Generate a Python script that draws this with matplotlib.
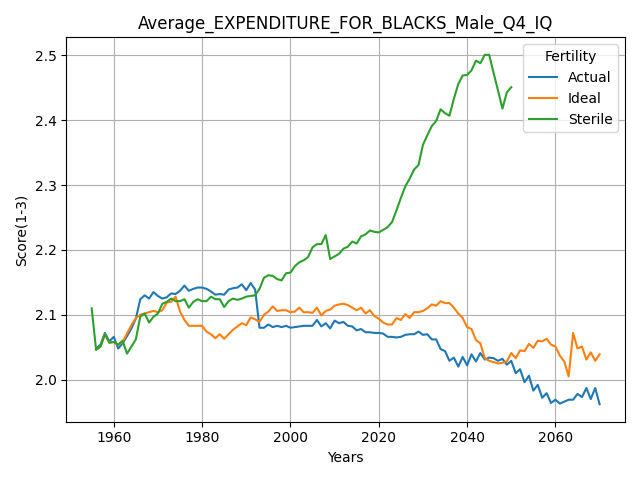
import matplotlib
matplotlib.use("Agg")
import matplotlib.pyplot as plt
import numpy as np

# yearly values
years_actual = list(range(1956, 2071))
actual = [
    2.048, 2.054, 2.072, 2.059, 2.066, 2.048, 2.056, 2.067, 2.079, 2.094,  # 1956-1965
    2.124, 2.130, 2.125, 2.135, 2.129, 2.125, 2.127, 2.133, 2.132, 2.137,  # 1966-1975
    2.145, 2.137, 2.140, 2.142, 2.142, 2.140, 2.136, 2.131, 2.132, 2.131,  # 1976-1985
    2.139, 2.141, 2.142, 2.147, 2.138, 2.149, 2.139, 2.080, 2.080, 2.085,  # 1986-1995
    2.081, 2.083, 2.081, 2.083, 2.080, 2.081, 2.082, 2.083, 2.083, 2.083,  # 1996-2005
    2.092, 2.082, 2.087, 2.079, 2.091, 2.087, 2.089, 2.083, 2.082, 2.076,  # 2006-2015
    2.078, 2.073, 2.073, 2.072, 2.072, 2.071, 2.066, 2.066, 2.065, 2.066,  # 2016-2025
    2.069, 2.070, 2.070, 2.074, 2.069, 2.070, 2.062, 2.062, 2.047, 2.044,  # 2026-2035
    2.029, 2.034, 2.020, 2.035, 2.022, 2.039, 2.028, 2.041, 2.031, 2.034,  # 2036-2045
    2.033, 2.029, 2.032, 2.023, 2.029, 2.010, 2.016, 1.996, 2.006, 1.983,  # 2046-2055
    1.992, 1.972, 1.979, 1.964, 1.969, 1.963, 1.966, 1.969, 1.969, 1.978,  # 2056-2065
    1.973, 1.987, 1.970, 1.987, 1.962,                                      # 2066-2070
]

years_ideal = list(range(1956, 2071))
ideal = [
    2.046, 2.051, 2.070, 2.057, 2.058, 2.054, 2.058, 2.071, 2.084, 2.095,  # 1956-1965
    2.100, 2.102, 2.104, 2.106, 2.104, 2.107, 2.119, 2.120, 2.128, 2.105,  # 1966-1975
    2.092, 2.083, 2.083, 2.083, 2.083, 2.074, 2.070, 2.064, 2.070, 2.063,  # 1976-1985
    2.070, 2.077, 2.082, 2.087, 2.084, 2.096, 2.093, 2.089, 2.100, 2.105,  # 1986-1995
    2.113, 2.106, 2.107, 2.107, 2.104, 2.105, 2.111, 2.104, 2.104, 2.103,  # 1996-2005
    2.111, 2.099, 2.106, 2.108, 2.114, 2.116, 2.117, 2.115, 2.111, 2.107,  # 2006-2015
    2.111, 2.102, 2.107, 2.098, 2.094, 2.088, 2.085, 2.085, 2.095, 2.092,  # 2016-2025
    2.101, 2.095, 2.104, 2.104, 2.106, 2.110, 2.116, 2.114, 2.121, 2.118,  # 2026-2035
    2.118, 2.111, 2.102, 2.095, 2.081, 2.078, 2.061, 2.056, 2.033, 2.029,  # 2036-2045
    2.027, 2.025, 2.026, 2.028, 2.041, 2.033, 2.045, 2.044, 2.055, 2.049,  # 2046-2055
    2.060, 2.059, 2.063, 2.054, 2.051, 2.037, 2.028, 2.005, 2.072, 2.048,  # 2056-2065
    2.051, 2.031, 2.042, 2.029, 2.039,                                      # 2066-2070
]

years_sterile = list(range(1955, 2051))
sterile = [
    2.110, 2.046, 2.051, 2.070, 2.057, 2.058, 2.054, 2.060, 2.040, 2.051,  # 1955-1964
    2.062, 2.097, 2.102, 2.088, 2.097, 2.102, 2.117, 2.120, 2.125, 2.121,  # 1965-1974
    2.121, 2.124, 2.111, 2.120, 2.124, 2.121, 2.121, 2.128, 2.124, 2.124,  # 1975-1984
    2.112, 2.121, 2.125, 2.123, 2.125, 2.128, 2.129, 2.130, 2.140, 2.157,  # 1985-1994
    2.161, 2.160, 2.155, 2.153, 2.164, 2.165, 2.175, 2.181, 2.184, 2.189,  # 1995-2004
    2.204, 2.209, 2.209, 2.223, 2.186, 2.190, 2.194, 2.202, 2.205, 2.213,  # 2005-2014
    2.210, 2.221, 2.224, 2.230, 2.228, 2.227, 2.231, 2.235, 2.243, 2.261,  # 2015-2024
    2.280, 2.298, 2.310, 2.324, 2.331, 2.362, 2.377, 2.391, 2.399, 2.417,  # 2025-2034
    2.411, 2.407, 2.433, 2.456, 2.469, 2.470, 2.477, 2.492, 2.488, 2.501,  # 2035-2044
    2.501, 2.473, 2.446, 2.418, 2.443, 2.451,                              # 2045-2050
]

fig, ax = plt.subplots(figsize=(6.4, 4.8), dpi=100)

ax.plot(years_actual, actual, label="Actual")
ax.plot(years_ideal, ideal, label="Ideal")
ax.plot(years_sterile, sterile, label="Sterile")

ax.set_title("Average_EXPENDITURE_FOR_BLACKS_Male_Q4_IQ")
ax.set_xlabel("Years")
ax.set_ylabel("Score(1-3)")
ax.grid(True)
ax.legend(title="Fertility", loc="upper right")

plt.tight_layout()
plt.savefig("out.png")
